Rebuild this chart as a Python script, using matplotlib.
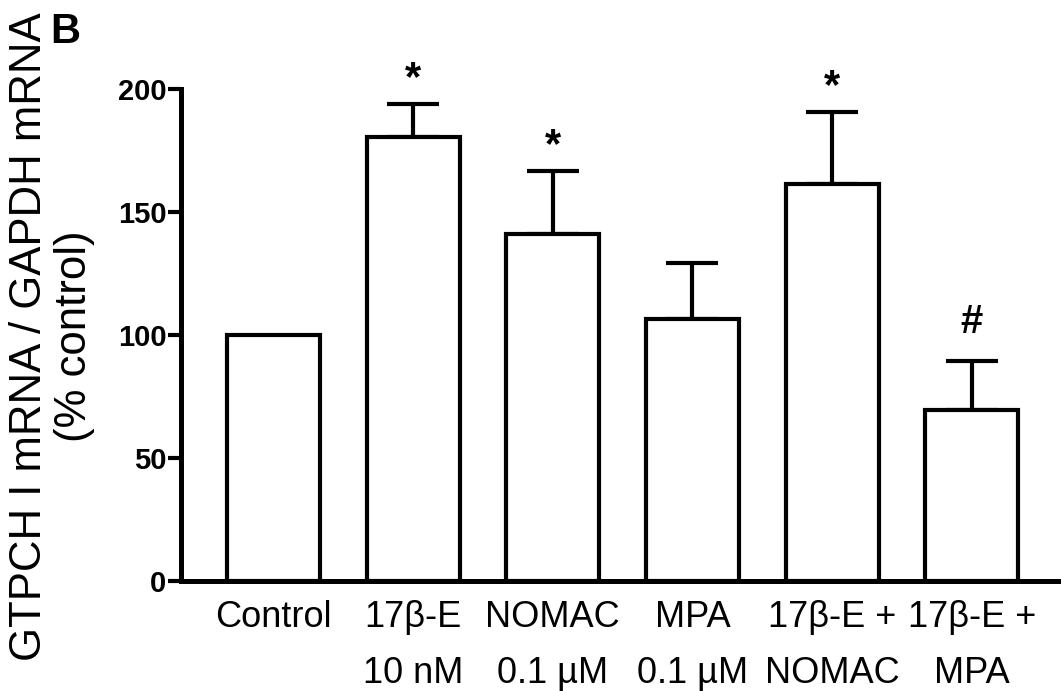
import matplotlib
matplotlib.use("Agg")
import matplotlib.pyplot as plt
import numpy as np

plt.rcParams['font.family'] = ['Liberation Sans', 'DejaVu Sans']

# Treatment groups and GTPCH I expression (% of control, mean + SEM)
categories = ["Control", "17\u03b2-E\n10 nM", "NOMAC\n0.1 \u00b5M", "MPA\n0.1 \u00b5M",
              "17\u03b2-E +\nNOMAC", "17\u03b2-E +\nMPA"]
means = [100.0, 180.5, 141.0, 106.5, 161.4, 69.5]
sems = [0.0, 13.4, 25.7, 22.8, 29.2, 19.9]
marks = ["", "*", "*", "", "*", "#"]
yticks = [0, 50, 100, 150, 200]
ylabel_lines = ["GTPCH I mRNA / GAPDH mRNA", "(% control)"]

fig = plt.figure(figsize=(10.61, 6.91), dpi=100)
ax = fig.add_axes([0.1706, 0.1592, 0.8294, 0.7120])

x = np.arange(len(categories))
ax.bar(x, means, width=0.666, facecolor='white', edgecolor='black',
       linewidth=3.0, zorder=2)

has_err = [i for i, s in enumerate(sems) if s > 0]
ax.errorbar(x[has_err], [means[i] for i in has_err],
            yerr=[[0] * len(has_err), [sems[i] for i in has_err]],
            fmt='none', ecolor='black', elinewidth=3.0, capsize=18.5,
            capthick=3.0, zorder=1)

# significance marks above the error bars
for xi, m, s, mk in zip(x, means, sems, marks):
    if mk == "*":
        ax.text(xi, m + s + 2, mk, ha='center', va='bottom',
                fontsize=30, fontweight='bold', clip_on=False)
    elif mk:
        ax.text(xi, m + s + 8, mk, ha='center', va='bottom',
                fontsize=29, fontweight='bold', clip_on=False)

ax.set_xlim(-0.663, 5.64)
ax.set_ylim(0, 200)
ax.set_yticks(yticks)
ax.set_yticklabels([str(t) for t in yticks], fontsize=21, fontweight='bold')
ax.set_xticks(x)
ax.set_xticklabels(categories, fontsize=26, linespacing=1.75)
ax.tick_params(axis='x', length=0, pad=14)
ax.tick_params(axis='y', length=9.5, width=3.0, pad=1)

for side in ('top', 'right'):
    ax.spines[side].set_visible(False)
ax.spines['left'].set_linewidth(3.6)
ax.spines['bottom'].set_linewidth(3.6)
ax.spines['left'].set_bounds(0, 200)

# two-line y-axis title
for xpos, line in zip([-0.1727, -0.1205], ylabel_lines):
    ax.text(xpos, 0.497, line, transform=ax.transAxes, rotation=90,
            fontsize=31.5, ha='center', va='center')

fig.text(0.047, 0.938, "B", fontsize=30, fontweight='bold',
         ha='left', va='baseline')

fig.savefig("out.png", dpi=100, facecolor='white')
